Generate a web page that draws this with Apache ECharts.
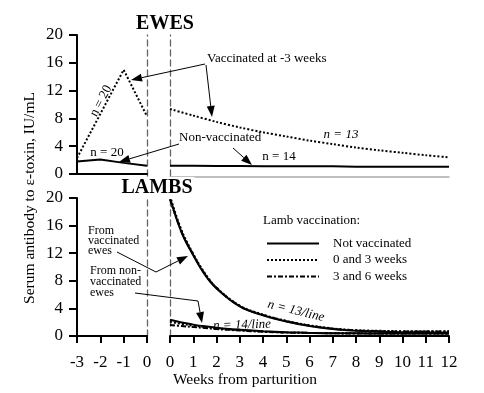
<!DOCTYPE html>
<html><head><meta charset="utf-8">
<script src="https://cdn.jsdelivr.net/npm/echarts@6/dist/echarts.min.js"></script>
<style>html,body{margin:0;padding:0;background:#fff}#c{width:484px;height:393px}</style>
</head><body><div id="c"></div>
<script>
// ---- data ----
const eweVacPreWeeks = [-3, -1, 0];
const eweVacPre = [2.3, 15.0, 8.3];
const eweNonPreWeeks = [-3, -2, -1, 0];
const eweNonPre = [1.8, 2.1, 1.6, 1.2];

const ewePostWeeks = [0, 1, 2, 3, 4, 5, 6, 7, 8, 9, 10, 11, 12];
const eweVacPost = [9.35, 8.4, 7.5, 6.7, 6.0, 5.4, 4.8, 4.3, 3.8, 3.4, 3.05, 2.7, 2.4];
const eweNonPost = [1.2, 1.2, 1.15, 1.15, 1.1, 1.1, 1.1, 1.1, 1.05, 1.05, 1.05, 1.05, 1.05];

const lambWeeks = [0, 0.5, 1, 1.5, 2, 3, 4, 5, 6, 7, 8, 9, 10, 11, 12];
const lambVacNot = [20.0, 15.0, 11.7, 8.9, 6.9, 4.3, 3.0, 2.1, 1.45, 1.0, 0.75, 0.6, 0.55, 0.5, 0.5];
const lambVac03  = [20.3, 15.3, 11.9, 9.1, 7.0, 4.4, 3.1, 2.2, 1.55, 1.1, 0.85, 0.75, 0.7, 0.7, 0.7];
const lambVac36  = [19.8, 15.1, 11.8, 9.0, 7.0, 4.35, 3.05, 2.15, 1.5, 1.05, 0.8, 0.7, 0.65, 0.65, 0.65];
const lambNonNot = [2.35, 1.95, 1.65, 1.4, 1.2, 0.9, 0.7, 0.55, 0.45, 0.4, 0.4, 0.35, 0.35, 0.35, 0.35];
const lambNon03  = [2.05, 1.75, 1.5, 1.3, 1.1, 0.85, 0.65, 0.5, 0.45, 0.4, 0.4, 0.35, 0.35, 0.35, 0.35];
const lambNon36  = [1.6, 1.45, 1.3, 1.15, 1.0, 0.8, 0.6, 0.5, 0.45, 0.4, 0.35, 0.35, 0.35, 0.35, 0.35];

const legendNames = ['Not vaccinated', '0 and 3 weeks', '3 and 6 weeks'];

// ---- chart ----
const FF = 'Liberation Serif';
const F = '"Liberation Serif", serif';
const chart = echarts.init(document.getElementById('c'));
function pairs(xs, ys) { return xs.map((x, i) => [x, ys[i]]); }

const DOT = [2, 2];
const DASHDOT = [5, 2, 2, 2];
function line(name, xi, data, type, opts) {
  return Object.assign({
    name: name, type: 'line', xAxisIndex: xi, yAxisIndex: xi, data: data,
    symbol: 'none', clip: false, silent: true, animation: false,
    lineStyle: { color: '#000', width: 2, type: type }, itemStyle: { color: '#000' }
  }, opts || {});
}

function arrow(pts, len, w) {
  len = len || 11; w = w || 4;
  const n = pts.length;
  const [x1, y1] = pts[n - 2], [x2, y2] = pts[n - 1];
  const dx = x2 - x1, dy = y2 - y1, L = Math.hypot(dx, dy);
  const ux = dx / L, uy = dy / L;
  const bx = x2 - ux * len, by = y2 - uy * len;
  const head = [[x2, y2], [bx - uy * w, by + ux * w], [bx + uy * w, by - ux * w]];
  const ln = pts.slice(0, n - 1).concat([[bx, by]]);
  return [
    { type: 'polyline', shape: { points: ln }, style: { stroke: '#000', lineWidth: 1, fill: null }, z: 10 },
    { type: 'polygon', shape: { points: head }, style: { fill: '#000' }, z: 10 }
  ];
}
function txt(s, x, y, font, extra, rot) {
  return { type: 'text', x: x, y: y, rotation: rot || 0, z: 10,
    style: Object.assign({ text: s, font: font, fill: '#000', align: 'left', verticalAlign: 'middle' }, extra || {}) };
}

const labelStyle = (margin) => ({
  color: '#000', margin: margin, fontFamily: FF, fontSize: 17,
  formatter: '{t|{value}}',
  rich: { t: { fontFamily: FF, fontSize: 17, color: '#000' } }
});

const yAxisVisible = (gi) => ({
  gridIndex: gi, type: 'value', min: 0, max: 20, interval: 4,
  axisLine: { show: true, onZero: false, lineStyle: { color: '#000', width: 2 } },
  axisTick: { show: true, length: 8, lineStyle: { color: '#000', width: 2 } },
  axisLabel: labelStyle(14),
  splitLine: { show: false }
});
const yHidden = (gi) => ({ gridIndex: gi, type: 'value', min: 0, max: 20, show: false });

const xBottom = (gi, mn, mx) => ({
  gridIndex: gi, type: 'value', min: mn, max: mx, interval: 1,
  axisLine: { show: true, onZero: false, lineStyle: { color: '#000', width: 2 } },
  axisTick: { show: true, length: 7, lineStyle: { color: '#000', width: 2 } },
  axisLabel: labelStyle(18),
  splitLine: { show: false }
});

const option = {
  animation: false,
  backgroundColor: '#fff',
  textStyle: { fontFamily: FF },
  grid: [
    { left: 77, top: 35, width: 70, height: 139 },
    { left: 170, top: 35, width: 279, height: 139 },
    { left: 77, top: 198, width: 70, height: 138 },
    { left: 170, top: 198, width: 279, height: 138 },
    { left: 77, top: 35, width: 70, height: 301 },
    { left: 170, top: 35, width: 279, height: 301 }
  ],
  xAxis: [
    { gridIndex: 0, type: 'value', min: -3, max: 0, interval: 1,
      axisLine: { show: true, onZero: false, lineStyle: { color: '#000', width: 2 } },
      axisTick: { show: false }, axisLabel: { show: false }, splitLine: { show: false } },
    { gridIndex: 1, type: 'value', min: 0, max: 12, interval: 1, offset: 3,
      axisLine: { show: true, onZero: false, lineStyle: { color: '#aaa', width: 1.5 } },
      axisTick: { show: false }, axisLabel: { show: false }, splitLine: { show: false } },
    xBottom(2, -3, 0),
    xBottom(3, 0, 12),
    { gridIndex: 4, type: 'value', min: -3, max: 0, show: false },
    { gridIndex: 5, type: 'value', min: 0, max: 12, show: false }
  ],
  yAxis: [
    yAxisVisible(0), yHidden(1), yAxisVisible(2), yHidden(3),
    { gridIndex: 4, type: 'value', min: 0, max: 1, position: 'right',
      axisLine: { show: true, onZero: false, lineStyle: { color: '#666', width: 1.3, type: [6, 4] } },
      axisTick: { show: false }, axisLabel: { show: false }, splitLine: { show: false } },
    { gridIndex: 5, type: 'value', min: 0, max: 1, position: 'left',
      axisLine: { show: true, onZero: false, lineStyle: { color: '#666', width: 1.3, type: [6, 4] } },
      axisTick: { show: false }, axisLabel: { show: false }, splitLine: { show: false } }
  ],
  legend: {
    data: legendNames, orient: 'vertical', left: 266, top: 237, padding: 0,
    itemWidth: 52, itemHeight: 10, itemGap: 3.5, selectedMode: false,
    itemStyle: { color: 'rgba(0,0,0,0)', borderWidth: 0, opacity: 0 },
    textStyle: { fontFamily: FF, fontSize: 13, color: '#000', padding: [0, 0, 0, 9] }
  },
  series: [
    line('ewe vaccinated pre', 0, pairs(eweVacPreWeeks, eweVacPre), DOT),
    line('ewe non-vaccinated pre', 0, pairs(eweNonPreWeeks, eweNonPre), 'solid'),
    line('ewe vaccinated post', 1, pairs(ewePostWeeks, eweVacPost), DOT, { smooth: 0.3 }),
    line('ewe non-vaccinated post', 1, pairs(ewePostWeeks, eweNonPost), 'solid'),
    line(legendNames[0], 3, pairs(lambWeeks, lambVacNot), 'solid', { smooth: 0.4 }),
    line(legendNames[1], 3, pairs(lambWeeks, lambVac03), DOT, { smooth: 0.4 }),
    line(legendNames[2], 3, pairs(lambWeeks, lambVac36), DASHDOT, { smooth: 0.4 }),
    line(legendNames[0], 3, pairs(lambWeeks, lambNonNot), 'solid', { smooth: 0.4 }),
    line(legendNames[1], 3, pairs(lambWeeks, lambNon03), DOT, { smooth: 0.4 }),
    line(legendNames[2], 3, pairs(lambWeeks, lambNon36), DASHDOT, { smooth: 0.4 })
  ],
  graphic: [].concat(
    [
      txt('EWES', 165, 24, 'bold 20px ' + F, { align: 'center' }),
      txt('LAMBS', 157, 188, 'bold 20px ' + F, { align: 'center', backgroundColor: '#fff', padding: [1, 2] }),
      txt('Serum antibody to ε-toxin, IU/mL', 30, 198, '15.5px ' + F, { align: 'center' }, Math.PI / 2),
      txt('Weeks from parturition', 245, 380, '15.5px ' + F, { align: 'center' }),
      txt('Vaccinated at -3 weeks', 207, 59, '13px ' + F),
      txt('n = 20', 101, 101, '13px ' + F, { align: 'center' }, 1.09),
      txt('n = 20', 107, 153, '13px ' + F, { align: 'center' }),
      txt('Non-vaccinated', 179, 138, '13px ' + F),
      txt('n = 14', 279, 157, '13px ' + F, { align: 'center' }),
      txt('n = 13', 341, 135, 'italic 13px ' + F, { align: 'center' }),
      txt('From\nvaccinated\newes', 88, 241, '12px ' + F, { lineHeight: 10 }),
      txt('From non-\nvaccinated\newes', 90, 282, '12px ' + F, { lineHeight: 11 }),
      txt('n = 14/line', 242, 325, 'italic 13px ' + F, { align: 'center' }, 0.03),
      txt('n = 13/line', 296, 311, 'italic 13px ' + F, { align: 'center' }, -0.24),
      txt('Lamb vaccination:', 263, 221, '13px ' + F)
    ],
    arrow([[205, 64], [131, 80]]),
    arrow([[206, 65], [212, 117]]),
    arrow([[179, 144], [119, 162]]),
    arrow([[233, 148], [252, 165]]),
    arrow([[117, 252], [156, 272], [188, 256]]),
    arrow([[135, 293], [198, 301], [202, 323]])
  )
};
chart.setOption(option);
</script></body></html>
